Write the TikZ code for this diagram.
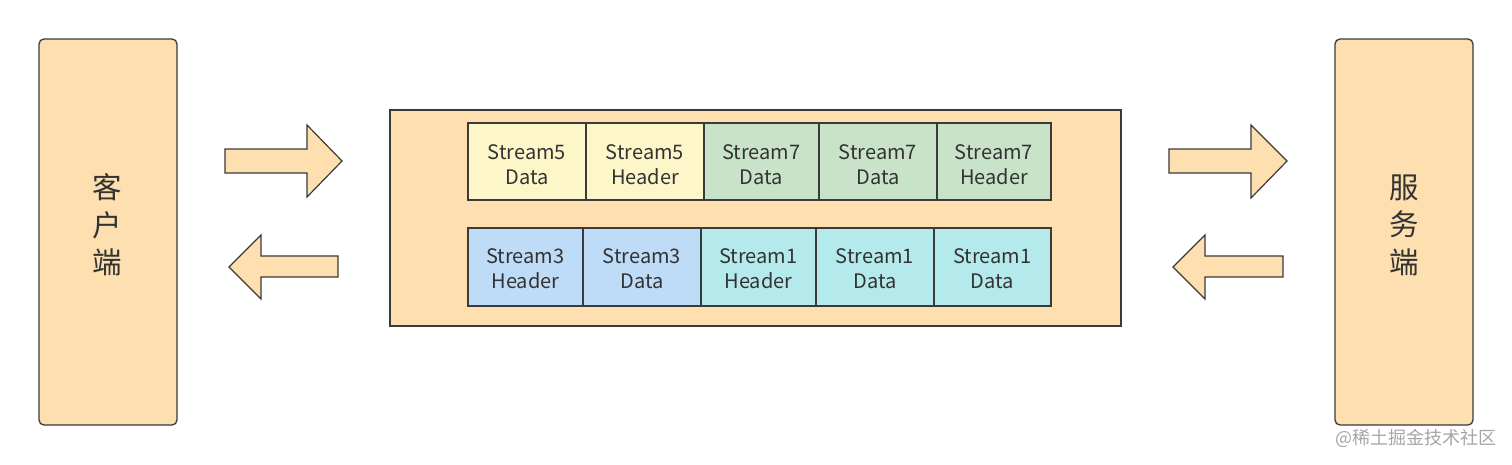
\documentclass[tikz,border=0pt]{standalone}
\usepackage{fontspec}
\setmainfont{Noto Sans CJK SC}
\newfontfamily\cjk{Noto Sans CJK SC}
\definecolor{peach}{HTML}{FDDFB0}
\definecolor{edge}{HTML}{3A3A3A}
\definecolor{cyellow}{HTML}{FDF6C8}
\definecolor{cgreen}{HTML}{C8E3C8}
\definecolor{cblue}{HTML}{BEDCF8}
\definecolor{ccyan}{HTML}{B5EAEC}
\definecolor{txt}{HTML}{333333}
\begin{document}
\begin{tikzpicture}[x=1pt,y=-1pt,
  endbox/.style={draw=edge,line width=1.3pt,fill=peach,rounded corners=5pt,inner sep=0pt},
  midbox/.style={draw=edge,line width=1.3pt,fill=peach,inner sep=0pt},
  cell/.style={draw=edge,line width=1.1pt,inner sep=0pt,align=center,text=txt,font=\fontsize{20}{25}\selectfont},
  celltext/.style={inner sep=0pt,align=center,text=txt,font=\fontsize{20}{25}\selectfont},
  bigarrow/.style={draw=edge,line width=1.2pt,fill=peach,line join=miter},
  cjklabel/.style={text=txt,font=\cjk\fontsize{29.5}{37.5}\selectfont,align=center}
]
\useasboundingbox (0,0) rectangle (1512,464);
\fill[white] (0,0) rectangle (1512,464);
% end boxes
\node[endbox,minimum width=138pt,minimum height=386pt] (client) at (108,232) {};
\node[endbox,minimum width=138pt,minimum height=386pt] (server) at (1404,232) {};
\node[cjklabel] (clientlbl) at (107,225) {客\\户\\端};
\node[cjklabel] (serverlbl) at (1404,225) {服\\务\\端};
% middle box
\node[midbox,minimum width=731pt,minimum height=216pt] (mid) at (755.5,218) {};
% top row
\node[cell,fill=cyellow,minimum width=118pt,minimum height=77pt] (t1) at (527,161.5) {};
\node[cell,fill=cyellow,minimum width=118pt,minimum height=77pt] (t2) at (645,161.5) {};
\node[cell,fill=cgreen,minimum width=115pt,minimum height=77pt] (t3) at (761.5,161.5) {};
\node[cell,fill=cgreen,minimum width=118pt,minimum height=77pt] (t4) at (878,161.5) {};
\node[cell,fill=cgreen,minimum width=114pt,minimum height=77pt] (t5) at (994,161.5) {};
\node[celltext] at ([yshift=-3pt]t1.center) {Stream5\\Data};
\node[celltext] at ([yshift=-3pt]t2.center) {Stream5\\Header};
\node[celltext] at ([yshift=-3pt]t3.center) {Stream7\\Data};
\node[celltext] at ([yshift=-3pt]t4.center) {Stream7\\Data};
\node[celltext] at ([yshift=-3pt]t5.center) {Stream7\\Header};
% bottom row
\node[cell,fill=cblue,minimum width=115pt,minimum height=78pt] (b1) at (525.5,267) {};
\node[cell,fill=cblue,minimum width=118pt,minimum height=78pt] (b2) at (642,267) {};
\node[cell,fill=ccyan,minimum width=115pt,minimum height=78pt] (b3) at (758.5,267) {};
\node[cell,fill=ccyan,minimum width=118pt,minimum height=78pt] (b4) at (875,267) {};
\node[cell,fill=ccyan,minimum width=117pt,minimum height=78pt] (b5) at (992.5,267) {};
\node[celltext] at ([yshift=-2pt]b1.center) {Stream3\\Header};
\node[celltext] at ([yshift=-2pt]b2.center) {Stream3\\Data};
\node[celltext] at ([yshift=-2pt]b3.center) {Stream1\\Header};
\node[celltext] at ([yshift=-2pt]b4.center) {Stream1\\Data};
\node[celltext] at ([yshift=-2pt]b5.center) {Stream1\\Data};
% arrows left side
\draw[bigarrow] (225,149) -- (307,149) -- (307,125) -- (342,161) -- (307,197) -- (307,173) -- (225,173) -- cycle;
\draw[bigarrow] (338,256) -- (261,256) -- (261,235) -- (229,267) -- (261,299) -- (261,277) -- (338,277) -- cycle;
% arrows right side
\draw[bigarrow] (1169,149) -- (1251,149) -- (1251,125) -- (1287,161) -- (1251,198) -- (1251,173) -- (1169,173) -- cycle;
\draw[bigarrow] (1283,256) -- (1205,256) -- (1205,235) -- (1173,267) -- (1205,299) -- (1205,277) -- (1283,277) -- cycle;
% watermark
\node[text=gray!70,font=\cjk\fontsize{18}{18}\selectfont,anchor=east,inner sep=0pt] (wm) at (1497,438) {@稀土掘金技术社区};
\end{tikzpicture}
\end{document}
